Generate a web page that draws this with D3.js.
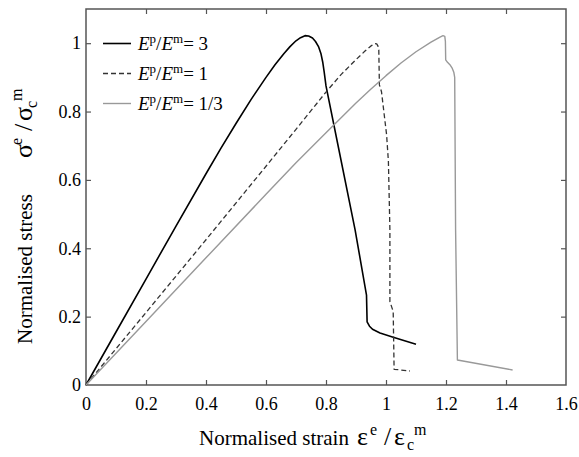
<!DOCTYPE html>
<html><head><meta charset="utf-8">
<script src="https://cdn.jsdelivr.net/npm/d3@7"></script>
<style>
html,body{margin:0;padding:0;background:#fff;}
</style></head>
<body><svg id="chart" width="579" height="457"></svg>
<script>
// ---- data ----
const xTicks = [0, 0.2, 0.4, 0.6, 0.8, 1, 1.2, 1.4, 1.6];
const yTicks = [0, 0.2, 0.4, 0.6, 0.8, 1];
const seriesNames = ["3", "1", "1/3"];
const strainE3 = [0,0.1,0.2,0.3,0.4,0.45,0.5,0.55,0.6,0.63,0.66,0.68,0.7,0.715,0.73,0.742,0.755,0.765,0.775,0.783,0.789,0.794,0.8,0.841,0.897,0.935,0.937,0.945,0.955,0.98,1.024,1.1];
const stressE3 = [0,0.155,0.31,0.465,0.618,0.693,0.765,0.835,0.9,0.937,0.97,0.99,1.007,1.016,1.022,1.021,1.015,1.005,0.99,0.97,0.945,0.915,0.875,0.697,0.454,0.263,0.185,0.172,0.163,0.152,0.14,0.119];
const strainE1 = [0,0.2,0.4,0.6,0.7,0.8,0.85,0.9,0.93,0.95,0.962,0.969,0.973,0.976,0.978,0.985,1.002,1.008,1.013,1.013,1.024,1.027,1.08];
const stressE1 = [0,0.212,0.425,0.64,0.748,0.857,0.908,0.952,0.977,0.992,0.999,0.998,0.992,0.98,0.878,0.858,0.732,0.654,0.454,0.244,0.215,0.046,0.041];
const strainE13 = [0,0.2,0.4,0.6,0.7,0.8,0.9,0.95,1.0,1.05,1.1,1.15,1.18,1.19,1.196,1.198,1.199,1.205,1.213,1.22,1.226,1.229,1.232,1.238,1.422];
const stressE13 = [0,0.186,0.372,0.558,0.65,0.738,0.825,0.866,0.905,0.942,0.975,1.003,1.018,1.022,1.02,1.005,0.951,0.944,0.937,0.928,0.915,0.9,0.454,0.073,0.044];

const FONT = "'Liberation Serif', 'Times New Roman', Times, serif";
const svg = d3.select("#chart");
const m = {l:86, t:9, w:480, h:376};
const x = d3.scaleLinear().domain([0,1.6]).range([m.l, m.l+m.w]);
const y = d3.scaleLinear().domain([0,1.1]).range([m.t+m.h, m.t]);
const frameColor = "#555";

// axes with inward ticks
const gx = svg.append("g").attr("transform",`translate(0,${m.t+m.h})`)
  .call(d3.axisBottom(x).tickValues(xTicks).tickSize(-5).tickPadding(12).tickFormat(d3.format("")));
const gxt = svg.append("g").attr("transform",`translate(0,${m.t})`)
  .call(d3.axisTop(x).tickValues(xTicks.slice(1,-1)).tickSize(-5).tickFormat(""));
const gy = svg.append("g").attr("transform",`translate(${m.l},0)`)
  .call(d3.axisLeft(y).tickValues(yTicks).tickSize(-5).tickPadding(5).tickFormat(d3.format("")));
const gyr = svg.append("g").attr("transform",`translate(${m.l+m.w},0)`)
  .call(d3.axisRight(y).tickValues(yTicks.slice(1)).tickSize(-5).tickFormat(""));
[gx,gxt,gy,gyr].forEach(g=>{
  g.attr("font-family",FONT).attr("font-size",18);
  g.select(".domain").remove();
  g.selectAll(".tick line").attr("stroke",frameColor).attr("stroke-width",1.2);
  g.selectAll(".tick text").attr("fill","#000");
});
gx.selectAll(".tick").filter(d=>d===0 || d===1.6).select("line").remove();
gy.selectAll(".tick").filter(d=>d===0).select("line").remove();
svg.append("rect").attr("x",m.l).attr("y",m.t).attr("width",m.w).attr("height",m.h)
  .attr("fill","none").attr("stroke",frameColor).attr("stroke-width",1.5);

// curves
const line = d3.line().x(d=>x(d[0])).y(d=>y(d[1]));
const styles = [
  {xs:strainE3, ys:stressE3, color:"#000", w:1.6, dash:null},
  {xs:strainE1, ys:stressE1, color:"#333", w:1.3, dash:"5,3"},
  {xs:strainE13, ys:stressE13, color:"#999", w:1.4, dash:null}
];
styles.forEach(s=>{
  const pts = d3.zip(s.xs, s.ys);
  svg.append("path").datum(pts).attr("d",line).attr("fill","none")
    .attr("stroke",s.color).attr("stroke-width",s.w)
    .attr("stroke-dasharray",s.dash).attr("stroke-linejoin","round");
});

// legend
const legRows = [43.5, 73.5, 103.5];
styles.forEach((s,i)=>{
  svg.append("line").attr("x1",103).attr("x2",131).attr("y1",legRows[i]).attr("y2",legRows[i])
    .attr("stroke",s.color).attr("stroke-width",s.w).attr("stroke-dasharray",s.dash);
  const t = svg.append("text").attr("x",138).attr("y",legRows[i]+6).attr("font-size",19);
  t.append("tspan").attr("font-style","italic").text("E");
  t.append("tspan").attr("font-size",13).attr("dy",-7).text("p");
  t.append("tspan").attr("dy",7).text("/");
  t.append("tspan").attr("font-style","italic").text("E");
  t.append("tspan").attr("font-size",13).attr("dy",-7).text("m");
  t.append("tspan").attr("dy",7).text("= " + seriesNames[i]);
});

// Greek ratio label, positioned along the text direction
function ratio(sel, g){
  const big = 26, small = 16;
  sel.append("tspan").attr("x",0).attr("y",0).attr("font-size",big).text(g);
  sel.append("tspan").attr("x",13).attr("y",-10).attr("font-size",small).text("e");
  sel.append("tspan").attr("x",27).attr("y",0).attr("font-size",big).text("/");
  sel.append("tspan").attr("x",37).attr("y",0).attr("font-size",big).text(g);
  sel.append("tspan").attr("x",50).attr("y",5).attr("font-size",small).text("c");
  sel.append("tspan").attr("x",57).attr("y",-10).attr("font-size",small).text("m");
}

// x axis title
svg.append("text").attr("x",199).attr("y",445).attr("font-size",21).text("Normalised strain");
ratio(svg.append("text").attr("transform","translate(357,445)"), "\u03b5");

// y axis title
svg.append("text").attr("transform","translate(32,344) rotate(-90)").attr("font-size",21).text("Normalised stress");
ratio(svg.append("text").attr("transform","translate(32,158) rotate(-90)"), "\u03c3");

svg.selectAll("text").style("font-family",FONT);
</script></body></html>
